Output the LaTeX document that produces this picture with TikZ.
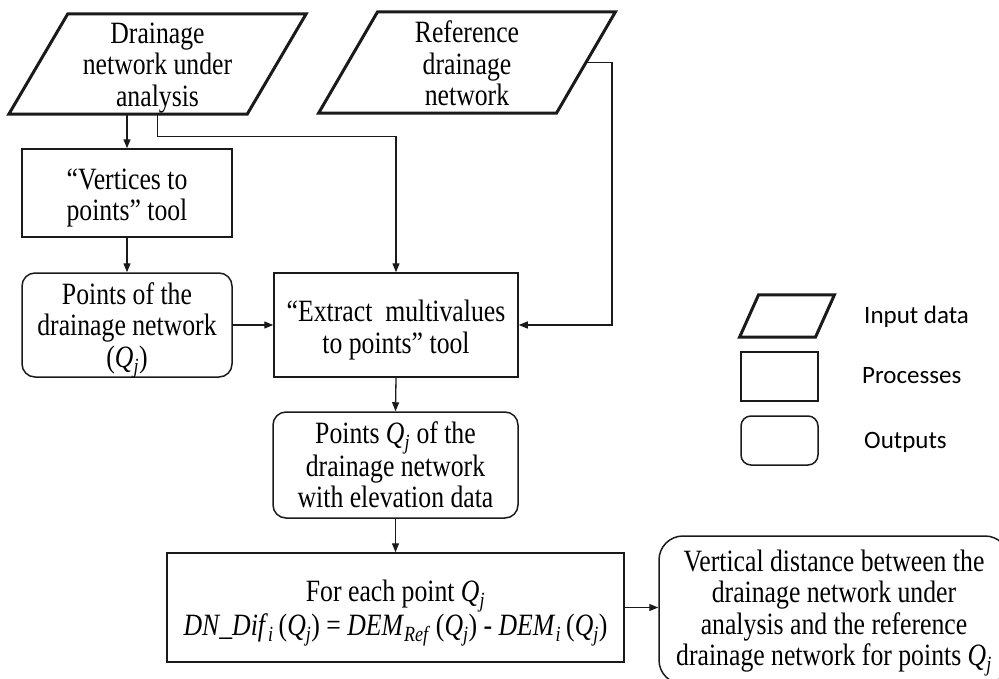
\documentclass[tikz,border=0pt]{standalone}
\usepackage{fontspec}
\setmainfont{Liberation Serif}[FakeStretch=0.83]
\newfontfamily\legendfont{Carlito}
\usetikzlibrary{arrows.meta}

\definecolor{ink}{HTML}{1A1A1A}

\tikzset{
  every node/.style={inner sep=0pt, align=center},
  every label/.style={inner sep=0pt, align=center, font=\fontsize{31}{31.5}\selectfont},
  txt/.style={font=\fontsize{31}{31.5}\selectfont},
  procbox/.style={txt, draw=ink, line width=1.5pt, rectangle},
  outbox/.style={procbox, rounded corners=13pt},
  inshape/.style={draw=ink, line width=3pt, line join=miter},
  link/.style={draw=ink, line width=1.3pt},
  arr/.style={link, -{Triangle[length=9pt,width=7pt]}},
  legtext/.style={font=\legendfont\fontsize{25}{28}\selectfont, anchor=west},
  % box text, lowered a little inside its frame
  body/.style 2 args={label={[yshift=-#1pt]center:{#2}}},
}

\newcommand{\Qj}{\textit{Q}\textsubscript{\textit{j}}}

\begin{document}
\begin{tikzpicture}[x=1pt,y=-1pt]
\useasboundingbox (0,0) rectangle (999,678);

% input data (parallelograms drawn around their nodes)
\node[minimum width=238pt, minimum height=100pt,
      body={4}{Drainage\\network under\\analysis}] (din) at (157.5,64) {};
\draw[inshape] ([xshift=-29.5pt]din.south west) -- ([xshift=-29.5pt]din.south east)
  -- ([xshift=29.5pt]din.north east) -- ([xshift=29.5pt]din.north west) -- cycle;

\node[minimum width=237.5pt, minimum height=101pt,
      body={1}{Reference\\drainage\\network}] (ref) at (467,62.5) {};
\draw[inshape] ([xshift=-29.5pt]ref.south west) -- ([xshift=-29.5pt]ref.south east)
  -- ([xshift=29.5pt]ref.north east) -- ([xshift=29.5pt]ref.north west) -- cycle;

% processes and outputs
\node[procbox, minimum width=210pt, minimum height=88pt,
      body={5}{``Vertices to\\points'' tool}] (vert) at (127,193) {};
\node[outbox, minimum width=210pt, minimum height=104pt,
      body={5}{Points of the\\drainage network\\(\Qj)}] (pts) at (127,325) {};
\node[procbox, minimum width=244pt, minimum height=104pt,
      body={5}{``Extract\ \ multivalues\\to points'' tool}] (ext) at (396,325) {};
\node[outbox, minimum width=245pt, minimum height=106pt,
      body={0}{Points \Qj\ of the\\drainage network\\with elevation data}] (ptq) at (395.5,465) {};
\node[procbox, minimum width=457pt, minimum height=109pt,
      body={6}{For each point \Qj\\
   \textit{DN\_Dif}\textsubscript{\textit{i}}\,(\Qj) = \textit{DEM}\textsubscript{\textit{Ref}}\,(\Qj) - \textit{DEM}\textsubscript{\textit{i}}\,(\Qj)}] (form) at (395.5,607.5) {};
\node[outbox, rounded corners=24pt, minimum width=350pt, minimum height=148pt,
      body={3}{Vertical distance between the\\drainage network under\\analysis and the reference\\drainage network for points \Qj}] (outb) at (834,610) {};

% connectors
\draw[arr] (vert.north |- din.south) -- (vert.north);
\draw[arr] (din.south) -- ++(0,22) -| (ext.north);
\draw[arr] (ref.east) -- ++(26,0) |- (ext.east);
\draw[arr] (vert.south) -- (pts.north);
\draw[arr] (pts.east) -- (ext.west);
\draw[arr] (ext.south) -- (ptq.north);
\draw[arr] (ptq.south) -- (form.north);
\draw[arr] (form.east) -- (form.east -| outb.west);

% legend
\node[minimum width=75.5pt, minimum height=42pt] (lin) at (787,316) {};
\draw[inshape] ([xshift=-9.5pt]lin.south west) -- ([xshift=-9.5pt]lin.south east)
  -- ([xshift=9.5pt]lin.north east) -- ([xshift=9.5pt]lin.north west) -- cycle;
\node[procbox, minimum width=77pt, minimum height=49pt] (lproc) at (779.5,376.5) {};
\node[outbox, rounded corners=10pt, minimum width=77pt, minimum height=49pt] (lout) at (779.5,440.5) {};
\node[legtext] (tin) at (864,317) {Input data};
\node[legtext] (tproc) at (862,376) {Processes};
\node[legtext] (tout) at (864,442) {Outputs};
\end{tikzpicture}
\end{document}
